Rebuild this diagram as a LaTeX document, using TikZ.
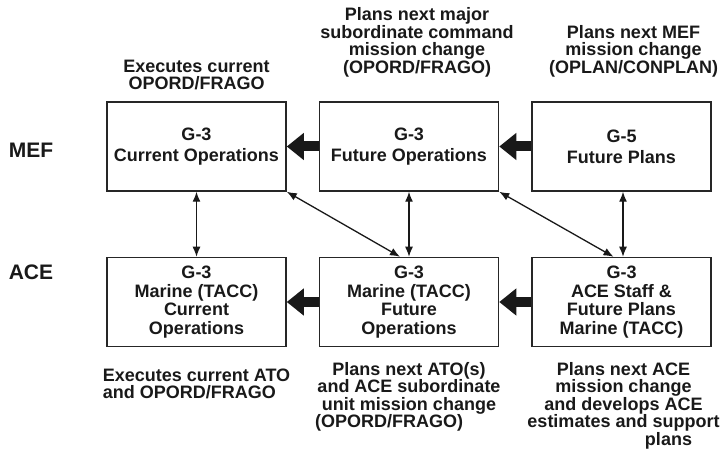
\documentclass[tikz,border=0pt]{standalone}
\usepackage{fontspec}
\setmainfont{Liberation Sans}
\usetikzlibrary{
	positioning,   %定位
	calc,          %计算
	arrows.meta    %箭头
}
\tikzset{
	every picture/.style={
		>=latex,
		node distance=65pt and 32pt
}}
\tikzset{box/.style={rectangle,
		draw=black!85,
		line width=1.5pt,
		minimum width=179pt,
		minimum height=89pt,
		inner sep=0pt,
		align=center,
		text=black!90,
		font=\bfseries\fontsize{18}{21}\selectfont}}
\tikzset{note/.style={inner sep=0pt,
		align=center,
		text=black!90,
		font=\bfseries\fontsize{18}{17.5}\selectfont}}
\tikzset{side/.style={inner sep=0pt,
		text=black!90,
		font=\bfseries\fontsize{21}{24}\selectfont}}
\tikzset{bigarrow/.style={line width=10pt,
		draw=black!90,
		-{Triangle[length=17pt,width=26pt]}}}
\tikzset{twoway/.style={line width=1.3pt,
		draw=black!90,
		{Latex[length=10pt,width=8pt]}-{Latex[length=10pt,width=8pt]}}}

\begin{document}
\begin{tikzpicture}[x=1pt,y=-1pt]
\useasboundingbox (0,0) rectangle (723,454);
% MEF
\node[box] (cur) at (196.5,146.5) {G-3\\Current Operations};
\node[box,right=of cur] (fut) {G-3\\Future Operations};
\node[box,right=of fut] (plans) {G-5\\Future Plans};
% ACE
\node[box,below=of cur,font=\bfseries\fontsize{18}{18.5}\selectfont] (acecur) {G-3\\Marine (TACC)\\Current\\Operations};
\node[box,below=of fut,font=\bfseries\fontsize{18}{18.5}\selectfont] (acefut) {G-3\\Marine (TACC)\\Future\\Operations};
\node[box,below=of plans,font=\bfseries\fontsize{18}{18.5}\selectfont] (aceplans) {G-3\\ACE Staff \&\\Future Plans\\Marine (TACC)};
\node[side] (mef) at (31,150) {MEF};
\node[side] (ace) at (31,272) {ACE};
% texts
\node[note,above=11pt of cur] (lab1) {Executes current\\OPORD/FRAGO};
\node[note,above=24pt of fut,xshift=8pt] (lab2) {Plans next major\\subordinate command\\mission change\\(OPORD/FRAGO)};
\node[note,above=24pt of plans,xshift=12pt] (lab3) {Plans next MEF\\mission change\\(OPLAN/CONPLAN)};
\node[note,below=21pt of acecur,align=left] (lab4) {Executes current ATO\\and OPORD/FRAGO};
\node[note,below=15pt of acefut] (lab5) {Plans next ATO(s)\\and ACE subordinate\\unit mission change\\\hspace*{-40pt}(OPORD/FRAGO)};
\node[note,below=15pt of aceplans,xshift=2pt] (lab6) {Plans next ACE\\mission change\\and develops ACE\\estimates and support\\\hspace*{90pt}plans};
% arrows
\draw[bigarrow] (plans.west) -- (fut.east);
\draw[bigarrow] (fut.west) -- (cur.east);
\draw[bigarrow] (aceplans.west) -- (acefut.east);
\draw[bigarrow] (acefut.west) -- (acecur.east);
\draw[twoway] (cur.south) -- (acecur.north);
\draw[twoway] (fut.south) -- (acefut.north);
\draw[twoway] ($(plans.south)+(1.5,0)$) -- ($(aceplans.north)+(1.5,0)$);
\draw[twoway] (cur.south east) -- ($(acefut.north)+(-9,0)$);
\draw[twoway] (fut.south east) -- ($(aceplans.north)+(-8,0)$);
\end{tikzpicture}
\end{document}
